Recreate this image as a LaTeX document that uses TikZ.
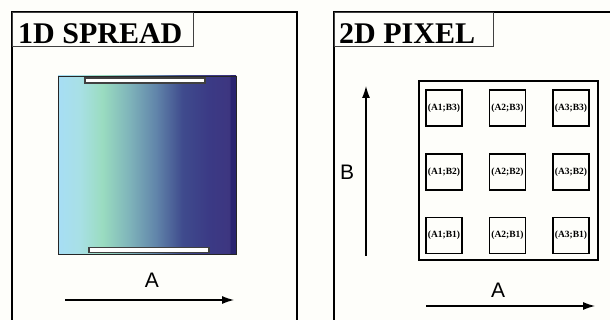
\documentclass[tikz,border=0pt]{standalone}
\usepackage{fontspec}
\setmainfont{Liberation Serif}
\newfontfamily\lsans{Liberation Sans}
\usetikzlibrary{arrows.meta}
\definecolor{bgc}{RGB}{254,254,250}
\definecolor{gA}{RGB}{167,222,245}
\definecolor{gB}{RGB}{168,224,230}
\definecolor{gC}{RGB}{154,220,192}
\definecolor{gD}{RGB}{127,180,186}
\definecolor{gE}{RGB}{97,133,170}
\definecolor{gF}{RGB}{63,75,141}
\definecolor{gG}{RGB}{59,58,133}
\definecolor{gH}{RGB}{61,54,128}
\definecolor{gI}{RGB}{42,36,112}
\pgfdeclarehorizontalshading{spreadshade}{100bp}{%
  color(0bp)=(gA); color(25bp)=(gA); color(31bp)=(gB); color(37.5bp)=(gC);
  color(45bp)=(gD); color(52.5bp)=(gE); color(60bp)=(gF); color(67.5bp)=(gG);
  color(73bp)=(gH); color(73.6bp)=(gI); color(75bp)=(gI); color(100bp)=(gI)}
\tikzset{
  frame/.style={line width=1.8pt, draw=black},
  titlebox/.style={draw=black!75, line width=1pt, fill=bgc, inner sep=0pt, anchor=north west},
  titletext/.style={font=\bfseries\fontsize{30}{32}\selectfont, inner sep=0pt, anchor=base west},
  bar/.style={draw=black!75, line width=1.2pt, fill=white, inner sep=0pt, minimum height=5pt},
  pixel/.style={draw=black, line width=1.8pt, minimum size=36pt, inner sep=0pt,
    font=\bfseries\fontsize{9.5}{10}\selectfont},
  axlabel/.style={font=\lsans\fontsize{21}{22}\selectfont, inner sep=0pt},
  axarrow/.style={line width=1.1pt, -{Latex[length=12pt,width=8pt]}}
}
\begin{document}
\begin{tikzpicture}[x=1pt,y=-1pt]
\useasboundingbox (0,0) rectangle (610,320);
\fill[bgc] (0,0) rectangle (610,320);
\clip (0,0) rectangle (610,320);
% ---- left panel ----
\draw[frame] (12,330) -- (12,12) -- (297,12) -- (297,330);
\node[titlebox, minimum width=181pt, minimum height=34pt] (t1) at (12,12) {};
\node[titletext] (t1txt) at (18,43.5) {1D SPREAD};
\node[draw=black!85, line width=0.8pt, shading=spreadshade, minimum width=178pt, minimum height=178pt, inner sep=0pt] (spread) at (147,165) {};
\node[bar, minimum width=120pt] (bartop) at (145,80.5) {};
\node[bar, minimum width=120pt] (barbot) at (149,250) {};
\node[axlabel] (a1) at (152,280) {A};
\coordinate (a1s) at (65,300);
\coordinate (a1e) at (234,300);
\draw[axarrow] (a1s) -- (a1e);
% ---- right panel ----
\draw[frame] (334,330) -- (334,12) -- (620,12);
\node[titlebox, minimum width=159pt, minimum height=34pt] (t2) at (334,12) {};
\node[titletext] (t2txt) at (339,43.5) {2D PIXEL};
\node[draw=black, line width=1.8pt, minimum size=179pt, inner sep=0pt] (grid) at (508.5,170.5) {};
\foreach \i/\x in {1/444,2/507.5,3/571}{
  \foreach \j/\y in {1/235.5,2/172,3/108}{
    \node[pixel] (p\i\j) at (\x,\y) {(A\i;B\j)};
  }
}
\node[axlabel] (bl) at (347,172) {B};
\coordinate (bs) at (366,256);
\coordinate (be) at (366,86);
\draw[axarrow] (bs) -- (be);
\node[axlabel] (a2) at (498,290) {A};
\coordinate (a2s) at (426,306);
\coordinate (a2e) at (595,306);
\draw[axarrow] (a2s) -- (a2e);
\end{tikzpicture}
\end{document}
